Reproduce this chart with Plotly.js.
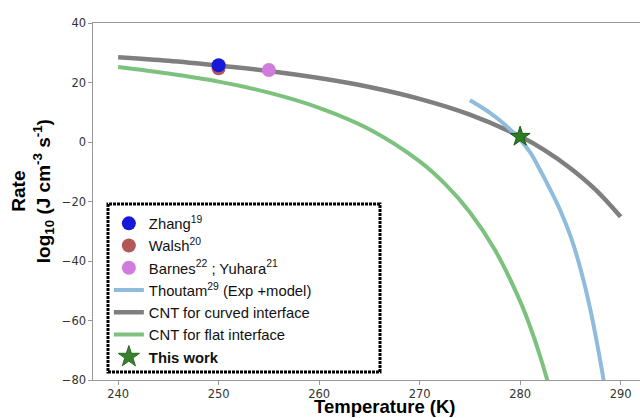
<!DOCTYPE html>
<html>
<head>
<meta charset="utf-8">
<script src="https://cdn.plot.ly/plotly-3.0.1.min.js"></script>
<style>html,body{margin:0;padding:0;background:#fff;}#chart{width:640px;height:418px;}</style>
</head>
<body>
<div id="chart"></div>
<script>
// Data
const tempCurved = [240, 245, 250, 255, 260, 265, 270, 275, 280, 282.5, 285, 287.5, 290];
const rateCurved = [28.5, 27.3, 25.7, 23.9, 21.5, 18.5, 14.5, 9.2, 1.9, -2.9, -8.8, -16.0, -25.1];

const tempFlat = [240, 245, 250, 255, 260, 265, 270, 272.5, 275, 277.5, 280, 281, 282, 282.7, 283.2];
const rateFlat = [25.2, 23.0, 20.3, 16.6, 11.5, 4.3, -6.5, -14.0, -23.6, -36.3, -53.5, -62.1, -72.1, -80.0, -86.0];

const tempThoutam = [275, 276, 277, 278, 279, 280, 281, 282, 283, 284, 285, 286, 287, 288, 288.5];
const rateThoutam = [14.0, 12.0, 9.8, 7.2, 4.2, 0.8, -3.5, -9.5, -16.0, -23.0, -31.5, -42.5, -56.5, -74.0, -84.0];

const tempZhang = [250];  const rateZhang = [25.8];
const tempWalsh = [250];  const rateWalsh = [24.8];
const tempBarnes = [255]; const rateBarnes = [24.2];
const tempThisWork = [280]; const rateThisWork = [1.8];

const yTicks = [-80, -60, -40, -20, 0, 20, 40];
const xTicks = [240, 250, 260, 270, 280, 290];

const names = {
  zhang: 'Zhang<sup>19</sup>',
  walsh: 'Walsh<sup>20</sup>',
  barnes: 'Barnes<sup>22</sup> ; Yuhara<sup>21</sup>',
  thoutam: 'Thoutam<sup>29</sup> (Exp +model)',
  curved: 'CNT for curved interface',
  flat: 'CNT for flat interface',
  thiswork: '<b>This work</b>'
};

const traces = [
  {x: tempFlat, y: rateFlat, mode: 'lines', name: names.flat, legendrank: 6,
   line: {color: '#7cc17e', width: 4, shape: 'spline'}},
  {x: tempCurved, y: rateCurved, mode: 'lines', name: names.curved, legendrank: 5,
   line: {color: '#7f7f7f', width: 4.5, shape: 'spline'}},
  {x: tempThoutam, y: rateThoutam, mode: 'lines', name: names.thoutam, legendrank: 4,
   line: {color: '#8fbcdd', width: 4, shape: 'spline'}},
  {x: tempWalsh, y: rateWalsh, mode: 'markers', name: names.walsh, legendrank: 2,
   marker: {color: '#b35858', size: 14}},
  {x: tempZhang, y: rateZhang, mode: 'markers', name: names.zhang, legendrank: 1,
   marker: {color: '#1818d8', size: 14}},
  {x: tempBarnes, y: rateBarnes, mode: 'markers', name: names.barnes, legendrank: 3,
   marker: {color: '#cf7cdc', size: 14}},
  {x: tempThisWork, y: rateThisWork, mode: 'markers', name: names.thiswork, showlegend: false,
   marker: {color: '#2f7d22', size: 15, symbol: 'star', line: {color: '#1d5a14', width: 1}}},
  // legend-only entry with the larger star the reference legend shows
  {x: [null], y: [null], mode: 'markers', name: names.thiswork, legendrank: 7,
   marker: {color: '#3a7f2c', size: 22, symbol: 'star', line: {color: '#2a6a1e', width: 1}}}
];

const tickFont = {family: 'DejaVu Sans, sans-serif', size: 11.5, color: '#333'};
const titleFont = {family: 'Liberation Sans, Arial, sans-serif', size: 18.5, color: '#000', weight: 'bold'};

const layout = {
  width: 640, height: 418,
  margin: {l: 93, r: 0, t: 23, b: 38, pad: 0},
  paper_bgcolor: '#fff', plot_bgcolor: '#fff',
  showlegend: true,
  legend: {
    x: 0.029, y: 0.484, xanchor: 'left', yanchor: 'top',
    bgcolor: 'rgba(0,0,0,0)', borderwidth: 0,
    font: {family: 'Liberation Sans, Arial, sans-serif', size: 14.8, color: '#111'},
    traceorder: 'normal', itemwidth: 30
  },
  xaxis: {
    range: [237.5, 291.93], tickvals: xTicks, ticktext: xTicks.map(String),
    showgrid: false, zeroline: false, showline: true, linecolor: '#999', linewidth: 1.3,
    mirror: true, ticks: 'outside', ticklen: 3.5, tickcolor: '#999', tickwidth: 1,
    tickfont: tickFont
  },
  yaxis: {
    range: [-80, 40], tickvals: yTicks,
    showgrid: false, zeroline: false, showline: true, linecolor: '#999', linewidth: 1.3,
    ticks: 'outside', ticklen: 3.5, tickcolor: '#999', tickwidth: 1,
    tickfont: tickFont
  },
  shapes: [{
    type: 'rect', xref: 'paper', yref: 'paper',
    x0: 0.0274, x1: 0.5247, y0: 0.0224, y1: 0.493,
    line: {color: '#000', width: 3, dash: '3px,1px'}, fillcolor: 'rgba(0,0,0,0)'
  }],
  annotations: [
    {text: '<b>Temperature (K)</b>', xref: 'paper', yref: 'paper', x: 0.534, y: -0.0735,
     xanchor: 'center', yanchor: 'middle', showarrow: false, font: titleFont, borderpad: 0},
    {text: '<b>Rate</b><br><b>log<sub>10</sub> (J cm<sup>-3</sup> s<sup>-1</sup>)</b>', xref: 'paper', yref: 'paper',
     x: -0.1115, y: 0.529, xanchor: 'center', yanchor: 'middle', textangle: -90,
     showarrow: false, font: {family: 'Liberation Sans, Arial, sans-serif', size: 19, color: '#000', weight: 'bold'}}
  ]
};

Plotly.newPlot('chart', traces, layout, {displayModeBar: false, responsive: false});
</script>
</body>
</html>
